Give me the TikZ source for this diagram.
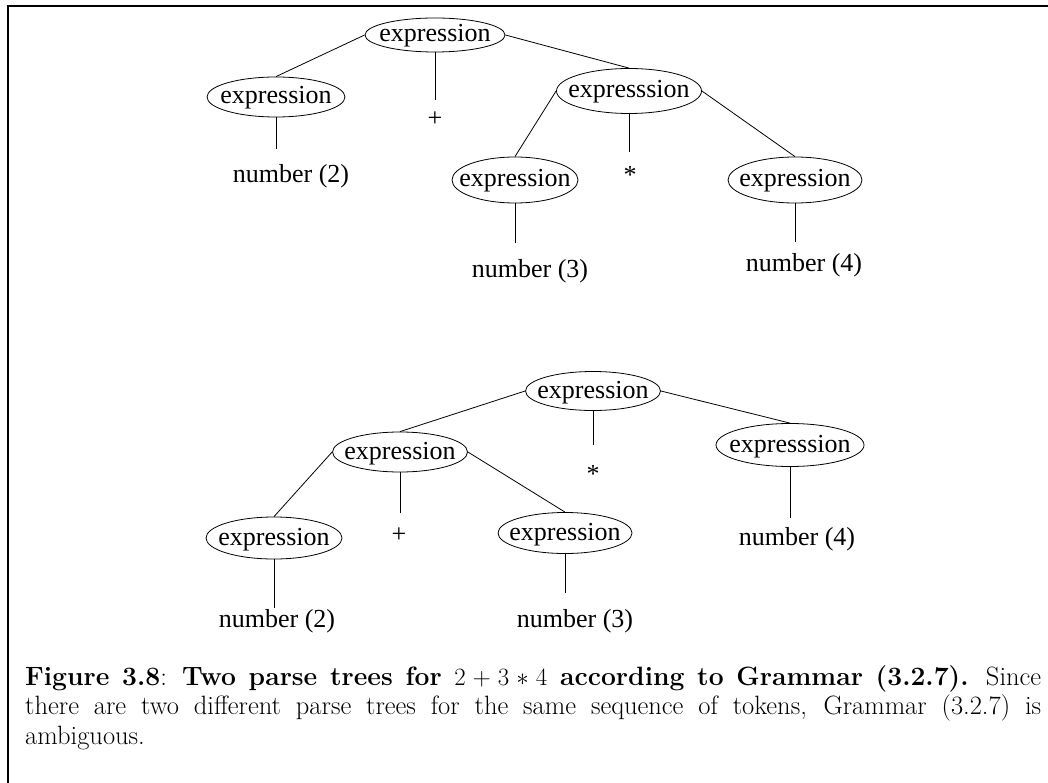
\documentclass[tikz,border=0pt]{standalone}
\usepackage{fontspec}
\newfontfamily\tms{Liberation Serif}
\usetikzlibrary{shapes.geometric}
\newcommand\ptxt[1]{\makebox[0pt]{\raisebox{-7pt}[0pt][0pt]{#1}}}
\begin{document}
\begin{tikzpicture}[x=1pt,y=-1pt,
  ell/.style={ellipse, draw, line width=0.8pt, inner sep=0pt, font=\tms\fontsize{26}{30}\selectfont},
  sz/.style 2 args={minimum width=#1pt, minimum height=#2pt},
  leaf/.style={inner sep=0pt, anchor=base, text height=18pt, text depth=0pt, font=\tms\fontsize{26}{30}\selectfont},
  edge/.style={line width=0.8pt},
  frame/.style={line width=2.8pt}]
\useasboundingbox (0,0) rectangle (1048,783);

% frame
\coordinate (fb) at (8,783);
\coordinate (fc) at (8,6);
\coordinate (fr) at (1048,6);
\draw[frame] (fb) -- (fc) -- (fr);

% ---------- top tree ----------
\node[ell, sz={140}{34}] (R1) at (435,35) {\ptxt{expression}};
\node[ell, sz={138}{40}] (L1) at (276,97) {\ptxt{expression}};
\node[ell, sz={145}{45}] (M1) at (629,91) {\ptxt{expresssion}};
\node[ell, sz={126}{46}] (LL1) at (515,180) {\ptxt{expression}};
\node[ell, sz={134}{46}] (RR1) at (795,180) {\ptxt{expression}};

\node[leaf] (plus1) at (435,127) {+};
\node[leaf] (n2a) at (291,183) {number (2)};
\node[leaf] (star1) at (630,184) {*};
\node[leaf] (n3a) at (530,278) {number (3)};
\node[leaf] (n4a) at (804,272) {number (4)};

\draw[edge] (R1.west) -- (L1.north);
\draw[edge] (R1.east) -- (M1.north);
\draw[edge, shorten >=9pt] (R1.south) -- (R1.south |- plus1.north);
\draw[edge, shorten >=16pt] (L1.south) -- (L1.south |- n2a.north);
\draw[edge] (M1.west) -- (LL1.north);
\draw[edge] (M1.east) -- (RR1.north);
\draw[edge, shorten >=14pt] (M1.south) -- (M1.south |- star1.north);
\draw[edge, shorten >=17pt] (LL1.south) -- (LL1.south |- n3a.north);
\draw[edge, shorten >=12pt] (RR1.south) -- (RR1.south |- n4a.north);

% ---------- bottom tree ----------
\node[ell, sz={135}{39}] (R2) at (593,391) {\ptxt{expression}};
\node[ell, sz={135}{40}] (L2) at (400,452) {\ptxt{expression}};
\node[ell, sz={148}{43}] (RR2) at (790,445) {\ptxt{expresssion}};
\node[ell, sz={136}{42}] (LL2) at (274,538) {\ptxt{expression}};
\node[ell, sz={134}{41}] (LR2) at (565,533) {\ptxt{expression}};

\node[leaf] (star2) at (593,482) {*};
\node[leaf] (plus2) at (399,542) {+};
\node[leaf] (n4b) at (797,545) {number (4)};
\node[leaf] (n2b) at (277,627) {number (2)};
\node[leaf] (n3b) at (575,627) {number (3)};

\draw[edge] (R2.west) -- (L2.north);
\draw[edge] (R2.east) -- (RR2.north);
\draw[edge, shorten >=19pt] (R2.south) -- (R2.south |- star2.north);
\draw[edge, shorten >=9pt] (RR2.south) -- (RR2.south |- n4b.north);
\draw[edge] (L2.west) -- (LL2.north);
\draw[edge] (L2.east) -- (LR2.north);
\draw[edge, shorten >=11pt] (L2.south) -- (L2.south |- plus2.north);
\draw[edge, shorten >=1pt] (LL2.south) -- (LL2.south |- n2b.north);
\draw[edge, shorten >=16pt] (LR2.south) -- (LR2.south |- n3b.north);

% ---------- caption ----------
\node[anchor=north west, inner sep=0pt] (cap) at (25,665)
  {\parbox[t]{1016pt}{\fontsize{26.5}{29.5}\selectfont\noindent
   \textbf{Figure 3.8}: \textbf{Two parse trees for $2+3*4$ according to Grammar (3.2.7).} Since\linebreak
   there are two different parse trees for the same sequence of tokens, Grammar (3.2.7) is\linebreak
   ambiguous.}};
\end{tikzpicture}
\end{document}
